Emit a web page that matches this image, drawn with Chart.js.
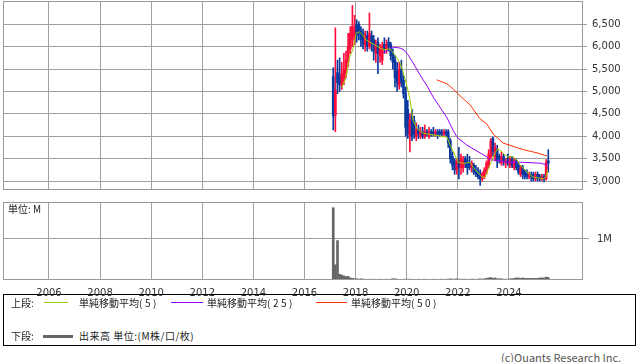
<!DOCTYPE html>
<html lang="ja">
<head>
<meta charset="UTF-8">
<title>株価チャート</title>
<style>
  body { margin: 0; background: #fff; font-family: "Noto Sans CJK JP", "DejaVu Sans", sans-serif; }
  #wrap { position: relative; width: 638px; height: 362px; overflow: hidden; }
  canvas { position: absolute; left: 0; }
  #priceChart { top: 0; }
  #volChart { top: 195px; }
  .txt { position: absolute; font-size: 10px; line-height: 12px; color: #222; white-space: nowrap; }
  .par { letter-spacing: 2.5px; }
  .ln { position: absolute; height: 1px; }
  .box { position: absolute; left: 3px; top: 294px; width: 633px; height: 52px; border: 1px solid #000; box-sizing: border-box; }
</style>
</head>
<body>
<div id="wrap">
  <div class="box"></div>
  <canvas id="priceChart" width="638" height="195"></canvas>
  <canvas id="volChart" width="638" height="110"></canvas>
  <div class="txt" style="left:8px; top:203px;">単位: M</div>

  <div class="txt" style="left:11px; top:297px;">上段:</div>
  <div class="ln" style="left:44px; top:302px; width:24px; background:#99cc00;"></div>
  <div class="txt" style="left:79px; top:297px;">単純移動平均<span class="par">(5)</span></div>
  <div class="ln" style="left:171px; top:302px; width:32px; background:#9900ff;"></div>
  <div class="txt" style="left:207px; top:297px;">単純移動平均<span class="par">(25)</span></div>
  <div class="ln" style="left:316px; top:302px; width:31px; background:#ff3300;"></div>
  <div class="txt" style="left:351px; top:297px;">単純移動平均<span class="par">(50)</span></div>
  <div class="txt" style="left:11px; top:330px;">下段:</div>
  <div class="ln" style="left:43px; top:335px; width:30px; height:3px; background:#666;"></div>
  <div class="txt" style="left:79px; top:330px; letter-spacing:0.5px;">出来高 単位:(M株/口/枚)</div>
  <div class="txt" style="left:501px; top:351px; font-size:11px; color:#555;">(c)Quants Research Inc.</div>
</div>

<script src="https://cdn.jsdelivr.net/npm/chart.js"></script>
<script>
  // monthly candles, first one is Feb 2017
  var startYear = 2017;
  var startMonth = 2;

  var opens  = [5330,4470,5420,5350,5150,5250,5400,5650,5950,6150,6200,6500,6500,6350,6300,6050,6250,6000,6250,6150,
                5850,6100,5800,5700,6050,5950,6100,6050,5850,5700,5450,5150,5500,5250,4950,4600,4000,4450,4350,4000,
                4150,4000,4100,4000,4100,4000,4100,4100,4050,4100,4100,4100,4050,4100,4100,3900,3550,3450,3250,3450,
                3300,3300,3500,3450,3400,3300,3350,3250,3200,3150,3050,3100,3200,3350,3550,3950,3550,3700,3550,3400,
                3550,3400,3500,3350,3500,3300,3450,3350,3150,3300,3200,3150,3100,3150,3150,3050,3150,3100,3050,3100,
                3050,3450];
  var highs  = [5530,6420,5700,5750,5650,5850,5900,6300,6450,6920,6700,6600,6560,6450,6400,6350,6350,6750,6350,6250,
                6150,6200,6050,6100,6200,6150,6200,6100,5950,5800,5650,5650,5700,5350,5100,4800,4500,4600,4450,4300,
                4250,4200,4200,4250,4150,4200,4150,4200,4150,4150,4150,4150,4150,4150,4150,3950,3650,3500,3500,3750,
                3600,3550,3550,3600,3550,3450,3400,3350,3300,3250,3200,3300,3450,3700,3950,3980,3850,3800,3600,3650,
                3600,3500,3600,3550,3550,3500,3500,3400,3350,3350,3250,3250,3200,3200,3200,3200,3200,3150,3150,3150,
                3480,3700];
  var lows   = [4140,4100,4950,5000,5050,5150,5300,5550,5850,6000,6050,6100,6150,6000,5950,5900,5900,5950,5900,5700,
                5650,5400,5650,5600,5850,5850,5900,5700,5500,5100,5000,5050,5100,4850,4000,3950,3650,3900,3950,3900,
                3950,3950,3950,3950,4000,3950,4000,4000,4000,3950,4000,4000,4000,4000,3750,3400,3250,3150,3150,3050,
                3150,3200,3300,3150,3250,3200,3150,3100,3050,2900,3000,3050,3150,3300,3500,3550,3450,3300,3400,3350,
                3350,3300,3350,3300,3300,3250,3250,3150,3100,3050,3050,3050,3050,3000,3000,3000,3000,3000,3000,2980,
                3020,3200];
  var closes = [4450,5030,5200,5150,5400,5500,5700,6000,6300,6450,6400,6250,6300,6150,6050,6250,6000,6300,6100,5900,
                6050,5850,5950,6000,5950,6050,6000,5800,5650,5300,5200,5500,5200,4950,4200,4050,4350,4000,4050,4150,
                4050,4100,4000,4100,4050,4100,4050,4050,4100,4050,4050,4050,4100,4050,3850,3500,3350,3250,3450,3300,
                3500,3450,3400,3300,3300,3400,3200,3150,3100,3050,3150,3250,3400,3600,3900,3650,3750,3450,3500,3550,
                3450,3450,3400,3500,3350,3450,3300,3200,3300,3150,3100,3100,3150,3100,3050,3150,3050,3050,3100,3050,
                3420,3400];
  // volume, unit M
  var volumes = [1.76,0.37,0.96,0.14,0.12,0.10,0.08,0.09,0.05,0.04,0.03,0.03,0.02,0.03,0.02,0.02,0.01,0.02,0.01,0.02,
                 0.01,0.01,0.02,0.01,0.01,0.02,0.01,0.02,0.03,0.03,0.02,0.01,0.01,0.01,0.02,0.02,0.02,0.01,0.01,0.01,
                 0.02,0.01,0.01,0.02,0.01,0.01,0.01,0.02,0.01,0.01,0.01,0.02,0.01,0.02,0.02,0.03,0.02,0.02,0.03,0.02,
                 0.02,0.02,0.02,0.01,0.02,0.02,0.02,0.01,0.02,0.03,0.02,0.03,0.04,0.05,0.06,0.04,0.05,0.03,0.03,0.03,
                 0.02,0.02,0.02,0.03,0.03,0.04,0.05,0.05,0.04,0.05,0.04,0.04,0.04,0.04,0.04,0.04,0.04,0.05,0.05,0.05,
                 0.07,0.06];

  // moving averages: [year, price]
  var ma5 = [[2017.46,5080],[2017.62,5320],[2017.75,5750],[2017.89,5930],[2018.02,6300],[2018.15,6330],[2018.28,6260],
             [2018.41,6150],[2018.56,6100],[2018.96,5970],[2019.15,5930],[2019.35,5950],[2019.54,5810],[2019.74,5640],
             [2019.86,5430],[2020.00,5150],[2020.13,4810],[2020.25,4360],[2020.39,4180],[2020.64,4070],[2021.03,4030],
             [2021.58,3980],[2021.70,3800],[2021.89,3580],[2022.01,3420],[2022.16,3400],[2022.32,3400],[2022.48,3420],
             [2022.60,3310],[2022.79,3180],[2022.95,3090],[2023.07,3090],[2023.18,3250],[2023.34,3470],[2023.46,3630],
             [2023.57,3720],[2023.73,3650],[2023.85,3580],[2023.97,3540],[2024.16,3540],[2024.32,3470],[2024.43,3360],
             [2024.63,3250],[2024.75,3180],[2024.94,3090],[2025.14,3070],[2025.34,3050],[2025.45,3090],[2025.53,3250]];
  var ma25 = [[2019.11,5860],[2019.43,5990],[2019.74,5970],[2019.89,5930],[2020.05,5820],[2020.25,5640],[2020.52,5370],
              [2020.80,5120],[2021.03,4880],[2021.30,4650],[2021.58,4410],[2021.81,4140],[2021.97,3980],[2022.09,3920],
              [2022.36,3800],[2022.60,3720],[2022.87,3630],[2023.14,3540],[2023.26,3470],[2023.46,3470],[2023.93,3420],
              [2024.43,3420],[2025.22,3400],[2025.49,3360]];
  var ma50 = [[2021.17,5260],[2021.58,5170],[2021.81,5060],[2022.09,4900],[2022.48,4700],[2022.87,4390],[2023.14,4270],
              [2023.38,4050],[2023.77,3850],[2024.24,3760],[2024.63,3690],[2025.10,3630],[2025.49,3560]];

  var priceTicks = [3000, 3500, 4000, 4500, 5000, 5500, 6000, 6500];
  var yearTicks = [2006, 2008, 2010, 2012, 2014, 2016, 2018, 2020, 2022, 2024];
  var volTicks = [1];

  var UP = '#ff0d3d';
  var DOWN = '#0b3a9e';
  var GRID = '#a0a0a0';
  var tickFont = { family: 'DejaVu Sans', size: 10 };

  function monthPos(i) {
    return startYear + (startMonth - 1 + i + 0.5) / 12;
  }

  var candleColors = closes.map(function(c, i) { return c >= opens[i] ? UP : DOWN; });

  var framePlugin = {
    id: 'frame',
    afterDraw: function(chart) {
      var a = chart.chartArea;
      var ctx = chart.ctx;
      ctx.save();
      ctx.strokeStyle = '#999';
      ctx.lineWidth = 1;
      ctx.strokeRect(Math.round(a.left) + 0.5, Math.round(a.top) + 0.5,
                     Math.round(a.right - a.left) - 1, Math.round(a.bottom - a.top) - 1);
      ctx.restore();
    }
  };

  function xScale(showLabels, h) {
    return {
      type: 'linear', min: 2004.2, max: 2026.9, offset: false,
      afterBuildTicks: function(s) { s.ticks = yearTicks.map(function(v) { return { value: v }; }); },
      afterFit: function(s) { s.height = h; s.paddingLeft = 0; s.paddingRight = 0; },
      grid: { color: GRID, offset: false, drawTicks: false },
      border: { display: false },
      ticks: { display: showLabels, color: '#333', font: tickFont, padding: 7, maxRotation: 0, autoSkip: false,
               callback: function(v) { return String(v); } }
    };
  }

  function yFit(s) {
    s.width = 55;
    s.paddingTop = 0;
    s.paddingBottom = 0;
  }

  function lineSet(pts, color) {
    return {
      type: 'line',
      data: pts.map(function(p) { return { x: p[0], y: p[1] }; }),
      borderColor: color, borderWidth: 1, pointRadius: 0, tension: 0, fill: false
    };
  }

  new Chart(document.getElementById('priceChart'), {
    type: 'bar',
    data: {
      datasets: [
        lineSet(ma5, '#99cc00'),
        lineSet(ma25, '#9900ff'),
        lineSet(ma50, '#ff3300'),
        {
          data: opens.map(function(o, i) { return { x: monthPos(i), y: [o, closes[i]] }; }),
          backgroundColor: candleColors, barThickness: 2, minBarLength: 1, grouped: false
        },
        {
          data: lows.map(function(l, i) { return { x: monthPos(i), y: [l, highs[i]] }; }),
          backgroundColor: candleColors, barThickness: 1, grouped: false
        }
      ]
    },
    options: {
      responsive: false,
      animation: false,
      devicePixelRatio: 1,
      layout: { padding: { left: 3, top: 1, right: 0, bottom: 0 } },
      plugins: { legend: { display: false }, tooltip: { enabled: false } },
      scales: {
        x: xScale(false, 5),
        y: {
          position: 'right', min: 2800, max: 7020,
          afterBuildTicks: function(s) { s.ticks = priceTicks.map(function(v) { return { value: v }; }); },
          afterFit: yFit,
          grid: { color: GRID, tickLength: 4 },
          border: { display: false },
          ticks: { color: '#333', font: tickFont, padding: 5,
                   callback: function(v) { return v.toLocaleString('en-US'); } }
        }
      }
    },
    plugins: [framePlugin]
  });

  new Chart(document.getElementById('volChart'), {
    type: 'bar',
    data: {
      datasets: [{
        data: volumes.map(function(v, i) { return { x: monthPos(i), y: v }; }),
        backgroundColor: '#666', barThickness: 2
      }]
    },
    options: {
      responsive: false,
      animation: false,
      devicePixelRatio: 1,
      layout: { padding: { left: 3, top: 7, right: 0, bottom: 0 } },
      plugins: { legend: { display: false }, tooltip: { enabled: false } },
      scales: {
        x: xScale(true, 25),
        y: {
          position: 'right', min: 0, max: 1.9,
          afterBuildTicks: function(s) { s.ticks = volTicks.map(function(v) { return { value: v }; }); },
          afterFit: yFit,
          grid: { color: GRID, tickLength: 6 },
          border: { display: false },
          ticks: { color: '#333', font: tickFont, padding: 8,
                   callback: function(v) { return v + 'M'; } }
        }
      }
    },
    plugins: [framePlugin]
  });
</script>
</body>
</html>
